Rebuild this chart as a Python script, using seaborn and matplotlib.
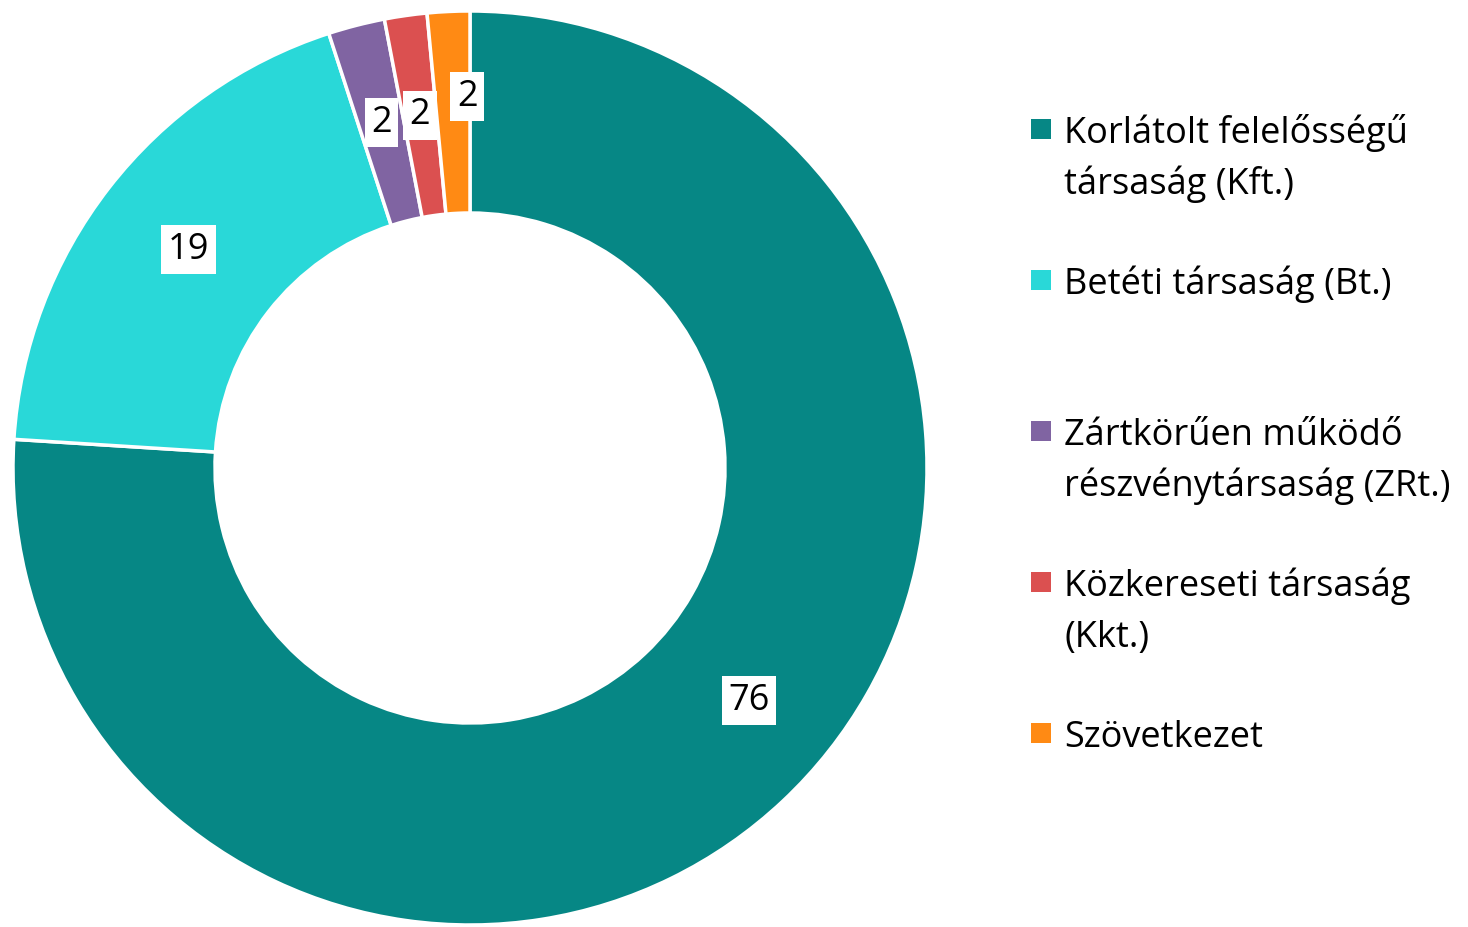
import matplotlib.pyplot as plt
import numpy as np
import seaborn as sns
from matplotlib.patches import Rectangle

# ──────────────────────────────────────────────
# Dados
# ──────────────────────────────────────────────
categorias = [
    "Korlátolt felelősségű\ntársaság (Kft.)",
    "Betéti társaság (Bt.)",
    "Zártkörűen működő\nrészvénytársaság (ZRt.)",
    "Közkereseti társaság\n(Kkt.)",
    "Szövetkezet",
]
valores = [76, 19, 2, 1.5, 1.5]
cores = ["#068785", "#29D8D8", "#8064A2", "#DB5050", "#FF8A14"]

sns.set_style("white")
plt.rcParams["font.family"] = ["Open Sans", "DejaVu Sans"]

W, H, DPI = 1468, 927, 100
FONTE = 26

fig = plt.figure(figsize=(W / DPI, H / DPI), dpi=DPI)

# donut: centro e raio em pixels
cx, cy, r = 470, 468, 457
ax = fig.add_axes([(cx - r) / W, (H - cy - r) / H, 2 * r / W, 2 * r / H])
wedges, _ = ax.pie(
    valores,
    colors=cores,
    startangle=90,
    counterclock=False,
    radius=1,
    wedgeprops=dict(width=0.442, edgecolor="white", linewidth=2.5),
)
ax.set_xlim(-1, 1)
ax.set_ylim(-1, 1)
ax.axis("off")

# rótulos de valor (alguns deslocados como no original)
deslocamentos = [(35, 27), (0, 0), (0, 0), (0, 0), (14, 15)]
for w, v, d in zip(wedges, valores, deslocamentos):
    ang = np.deg2rad((w.theta1 + w.theta2) / 2)
    x, y = 0.78 * np.cos(ang), 0.78 * np.sin(ang)
    ax.annotate(
        f"{v:.0f}",
        (x, y),
        xytext=d,
        textcoords="offset pixels",
        ha="center",
        va="center",
        fontsize=FONTE,
        color="black",
        bbox=dict(boxstyle="square,pad=0.18", fc="white", ec="none"),
    )

# legenda manual (marcador alinhado à primeira linha)
y0, passo, entrelinha = 129, 151, 51
for i, (nome, cor) in enumerate(zip(categorias, cores)):
    ym = y0 + passo * i
    fig.patches.append(
        Rectangle(
            (1031 / W, (H - ym - 10) / H), 20 / W, 20 / H,
            transform=fig.transFigure, facecolor=cor, edgecolor="none",
        )
    )
    for k, linha in enumerate(nome.split("\n")):
        fig.text(
            1064 / W, (H - (ym + 14 + entrelinha * k)) / H, linha,
            ha="left", va="baseline", fontsize=FONTE, color="black",
        )

fig.savefig("out.png", dpi=DPI)
